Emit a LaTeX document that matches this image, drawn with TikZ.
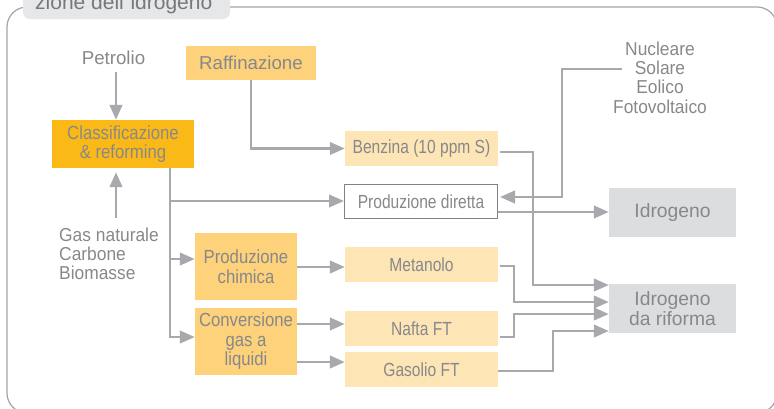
\documentclass[tikz,border=0pt]{standalone}
\usepackage{fontspec}
\setmainfont{Liberation Sans}
\newfontfamily\fA[FakeStretch=0.82]{Liberation Sans}
\newfontfamily\fB[FakeStretch=0.88]{Liberation Sans}
\newfontfamily\fC[FakeStretch=0.93]{Liberation Sans}
\usetikzlibrary{arrows.meta}
\definecolor{lc}{HTML}{A7A9AC}
\definecolor{tc}{HTML}{87888B}
\definecolor{ttc}{HTML}{77787B}
\definecolor{orA}{HTML}{FBB918}
\definecolor{orB}{HTML}{FDD27B}
\definecolor{orC}{HTML}{FEE5B6}
\definecolor{grb}{HTML}{DCDDDE}
\definecolor{tabc}{HTML}{E6E7E8}
\definecolor{frc}{HTML}{A3A4A7}
\definecolor{pdb}{HTML}{808285}
\begin{document}
\begin{tikzpicture}[x=1pt,y=-1pt,
  ln/.style={draw=lc,line width=2.6pt},
  arr/.style={ln,-{Triangle[length=15pt,width=12.5pt]}},
  box/.style={inner sep=0pt,text=tc,align=center},
  lightbox/.style={box,fill=orC,minimum width=153pt,minimum height=35pt,font=\fA\fontsize{19}{19.5}\selectfont},
  midbox/.style={box,fill=orB,minimum width=102pt,minimum height=67pt,font=\fB\fontsize{19}{19.5}\selectfont},
  greybox/.style={box,fill=grb,minimum width=127pt,minimum height=49pt,font=\fontsize{19.3}{19.3}\selectfont},
  plain/.style={inner sep=0pt,text=tc}]
\useasboundingbox (0,0) rectangle (774,408);
\clip (0,0) rectangle (774,408);

% frame and title tab
\draw[draw=frc,line width=1.2pt,rounded corners=20pt] (7,7) rectangle (777,413);
\fill[tabc,rounded corners=7pt] (23,-20) rectangle (230,19);
\node[plain,text=ttc,anchor=base west,font=\fontsize{21}{22}\selectfont] (title) at (35,9.5) {zione dell’\kern2pt idrogeno};

% nodes
\node[box,fill=orB,minimum width=130pt,minimum height=34pt,font=\fontsize{18.7}{19.5}\selectfont] (raff) at (251,63) {Raffinazione};
\node[box,fill=orA,minimum width=142pt,minimum height=48pt,font=\fB\fontsize{19}{19.5}\selectfont] (class) at (123,144) {\raisebox{-1.8pt}{Classificazione}\\\raisebox{-1.8pt}{\& reforming}};
\node[plain,anchor=base,font=\fontsize{18.7}{19}\selectfont] (petr) at (113.5,64) {Petrolio};
\node[plain,anchor=west,align=left,font=\fC\fontsize{18.7}{19}\selectfont] (gasn) at (59,253.4) {Gas naturale\\Carbone\\Biomasse};
\node[plain,align=center,font=\fC\fontsize{18.7}{19.2}\selectfont] (nuc) at (660,77.7) {Nucleare\\Solare\\Eolico\\Fotovoltaico};

\node[lightbox] (benz) at (421.5,148.5) {Benzina (10 ppm S)};
\node[lightbox,fill=white,draw=pdb,line width=1.3pt,minimum width=152.7pt,minimum height=33.7pt] (pd) at (421,201.5) {Produzione diretta};
\node[lightbox] (met) at (421.5,264.5) {Metanolo};
\node[lightbox] (naf) at (421.5,328.5) {Nafta FT};
\node[lightbox] (gas) at (421.5,369.5) {Gasolio FT};

\node[midbox] (chim) at (246,266.5) {Produzione\\chimica};
\node[midbox] (conv) at (246,341.5) {Conversione\\gas a\\liquidi};

\node[greybox] (idr) at (672.5,212.5) {Idrogeno};
\node[greybox] (rif) at (672.5,308.5) {Idrogeno\\da riforma};

% connectors
\coordinate (pa) at (116,72);
\coordinate (ga) at (116,218);
\coordinate (tr) at (170,0);
\coordinate (sol) at (622,69);
\draw[arr] (pa) -- (class.north -| pa);
\draw[arr] (ga) -- ([yshift=-4pt]class.south -| ga);
\draw[arr] (class.south -| tr) |- (conv.west |- 0,337);
\draw[arr] (tr |- 0,201) -- (pd.west |- 0,201);
\draw[arr] (tr |- 0,259) -- (chim.west |- 0,259);
\draw[arr] (raff.south) |- (benz.west);
\draw[arr] (chim.east |- 0,267) -- (met.west |- 0,267);
\draw[arr] (conv.east |- 0,324) -- (naf.west |- 0,324);
\draw[arr] (conv.east |- 0,362) -- (gas.west |- 0,362);
\draw[arr] (pd.east |- 0,212) -- (idr.west |- 0,212);
\draw[arr] (sol) -- (562,69) -- (562,197) -- ([xshift=2pt]pd.east |- 0,197);
\draw[arr] ([xshift=2pt]benz.east |- 0,152) -- (533,152) -- (533,285) -- (rif.west |- 0,285);
\draw[arr] ([xshift=2pt]met.east |- 0,266) -- (514,266) -- (514,302) -- (rif.west |- 0,302);
\draw[arr] ([xshift=2pt]naf.east |- 0,337) -- (514,337) -- (514,314) -- (rif.west |- 0,314);
\draw[arr] (gas.east |- 0,371) -- (553,371) -- (553,331) -- (rif.west |- 0,331);
\end{tikzpicture}
\end{document}
